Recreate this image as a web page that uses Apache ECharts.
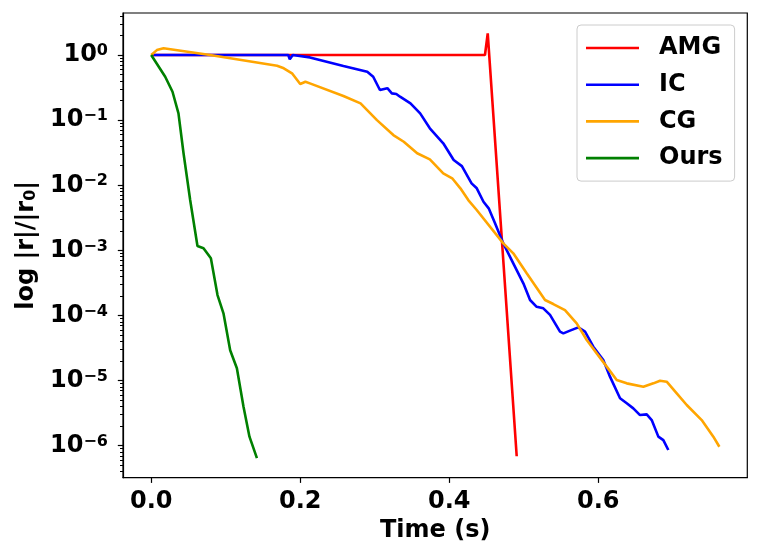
<!DOCTYPE html>
<html>
<head>
<meta charset="utf-8">
<script src="https://cdn.jsdelivr.net/npm/echarts@6/dist/echarts.min.js"></script>
<style>
  html, body { margin: 0; padding: 0; background: #fff; }
  #chart { width: 760px; height: 559px; }
</style>
</head>
<body>
<div id="chart"></div>
<script>
// residual history: time (s) and |r|/|r0|
const amgTime = [0, 0.448, 0.4517, 0.4906];
const amgRes = [1, 1, 2.15, 6.9e-7];

const icTime = [0.003, 0.184, 0.186, 0.19, 0.213, 0.258, 0.29, 0.298, 0.307, 0.317,
    0.323, 0.329, 0.334, 0.348, 0.361, 0.374, 0.392, 0.406, 0.417, 0.43,
    0.437, 0.446, 0.453, 0.4615, 0.4726, 0.486, 0.4995, 0.5085, 0.5174, 0.5263,
    0.5353, 0.5487, 0.5532, 0.5621, 0.5733, 0.5823, 0.5934, 0.6068, 0.6158, 0.6293,
    0.6383, 0.6471, 0.6561, 0.6651, 0.6718, 0.6807, 0.6874, 0.6941];
const icRes = [1, 1, 0.86, 1, 0.92, 0.678, 0.554, 0.464, 0.29, 0.31,
    0.258, 0.252, 0.229, 0.181, 0.127, 0.0749, 0.0441, 0.0244, 0.0197, 0.0107,
    8.98e-3, 5.59e-3, 4.42e-3, 2.6e-3, 1.28e-3, 6.33e-4, 3.12e-4, 1.73e-4, 1.36e-4, 1.29e-4,
    1.02e-4, 5.64e-5, 5.32e-5, 5.85e-5, 6.58e-5, 5.64e-5, 3.32e-5, 2.07e-5, 1.15e-5, 5.35e-6,
    4.48e-6, 3.75e-6, 2.96e-6, 3.03e-6, 2.48e-6, 1.38e-6, 1.22e-6, 8.59e-7];

const cgTime = [0, 0.0076, 0.0166, 0.079, 0.169, 0.178, 0.189, 0.2, 0.207, 0.213,
    0.258, 0.281, 0.303, 0.325, 0.339, 0.357, 0.374, 0.392, 0.404, 0.415,
    0.4256, 0.4369, 0.4726, 0.486, 0.504, 0.5286, 0.5397, 0.5554, 0.5711, 0.5846,
    0.598, 0.6114, 0.6248, 0.6383, 0.6606, 0.674, 0.683, 0.6919, 0.7054, 0.7188,
    0.7389, 0.7545, 0.7626];
const cgRes = [1, 1.19, 1.27, 1.0, 0.685, 0.625, 0.524, 0.359, 0.389, 0.367,
    0.235, 0.181, 0.1, 0.059, 0.0466, 0.031, 0.025, 0.0152, 0.0128, 8.98e-3,
    5.93e-3, 4.17e-3, 1.28e-3, 9.02e-4, 4.45e-4, 1.73e-4, 1.5e-4, 1.21e-4, 7.59e-5, 4.2e-5,
    2.62e-5, 1.64e-5, 1.02e-5, 9.08e-6, 8.07e-6, 9.08e-6, 9.98e-6, 9.62e-6, 6.37e-6, 4.22e-6,
    2.48e-6, 1.38e-6, 9.66e-7];

const oursTime = [0, 0.0188, 0.0286, 0.0366, 0.0434, 0.0523, 0.0621, 0.0702, 0.0801, 0.089,
    0.097, 0.106, 0.115, 0.1239, 0.1319, 0.1419];
const oursRes = [1, 0.464, 0.273, 0.127, 0.031, 5.93e-3, 1.17e-3, 1.08e-3, 7.55e-4, 2.06e-4,
    1.08e-4, 2.92e-5, 1.55e-5, 3.98e-6, 1.38e-6, 6.46e-7];

const seriesNames = ['AMG', 'IC', 'CG', 'Ours'];
const seriesColors = ['#ff0000', '#0000ff', '#ffa500', '#008000'];

const xTicks = [0, 0.2, 0.4, 0.6];
const yExponents = [-6, -5, -4, -3, -2, -1, 0];

const FONT = 'DejaVu Sans';

function zip(xs, ys) {
    return xs.map((x, i) => [x, ys[i]]);
}

const yMajor = yExponents.map(e => Math.pow(10, e));
const yMinor = [];
for (let e = -7; e <= 0; e++) {
    for (let k = 2; k <= 9; k++) {
        yMinor.push(k * Math.pow(10, e));
    }
}

const seriesData = [
    zip(amgTime, amgRes),
    zip(icTime, icRes),
    zip(cgTime, cgRes),
    zip(oursTime, oursRes)
];

const chart = echarts.init(document.getElementById('chart'), null, { renderer: 'canvas' });

const yMin = 3.23e-7;
const yMax = 4.42;

chart.setOption({
    animation: false,
    backgroundColor: '#fff',
    grid: {
        left: 123, right: 12.7, top: 13, bottom: 81.3,
        show: true, borderColor: '#000', borderWidth: 1.2, backgroundColor: 'transparent'
    },
    legend: {
        orient: 'vertical',
        left: 577, top: 25,
        padding: [11, 12, 11, 9],
        icon: 'rect',
        itemWidth: 53, itemHeight: 2.6, itemGap: 12.7,
        backgroundColor: '#fff',
        borderColor: '#cccccc', borderWidth: 1, borderRadius: 4,
        data: seriesNames,
        textStyle: {
            fontFamily: FONT, fontWeight: 'bold', fontSize: 24, color: '#000',
            lineHeight: 24, padding: [0, 0, 0, 15]
        }
    },
    xAxis: {
        type: 'value',
        min: -0.03785, max: 0.8001,
        name: 'Time (s)',
        nameLocation: 'middle',
        nameGap: 40,
        nameTextStyle: { fontFamily: FONT, fontWeight: 'bold', fontSize: 24, color: '#000' },
        axisLine: { show: true, onZero: false, lineStyle: { color: '#000', width: 1.2 } },
        axisTick: { show: true, length: 5.2, lineStyle: { color: '#000', width: 1.2 }, customValues: xTicks },
        axisLabel: {
            customValues: xTicks, margin: 12,
            fontFamily: FONT, fontWeight: 'bold', fontSize: 24, color: '#000',
            formatter: v => v.toFixed(1)
        },
        splitLine: { show: false }
    },
    yAxis: [{
        type: 'log',
        min: yMin, max: yMax,
        position: 'left',
        name: '{a|log |r|/|r}{sub|0}{a||}',
        nameLocation: 'middle',
        nameGap: 82,
        nameTextStyle: {
            rich: {
                a: { fontFamily: FONT, fontWeight: 'bold', fontSize: 24, color: '#000' },
                sub: { fontFamily: FONT, fontWeight: 'bold', fontSize: 16, color: '#000', lineHeight: 14, verticalAlign: 'bottom' }
            }
        },
        axisLine: { show: true, onZero: false, lineStyle: { color: '#000', width: 1.2 } },
        axisTick: { show: true, length: 5.2, lineStyle: { color: '#000', width: 1.2 }, customValues: yMajor },
        axisLabel: {
            customValues: yMajor, margin: 15,
            formatter: v => '{b|10}{s|' + (Math.round(Math.log10(v)) < 0 ? '\u2212' : '') + Math.abs(Math.round(Math.log10(v))) + '}',
            rich: {
                b: { fontFamily: FONT, fontWeight: 'bold', fontSize: 24, color: '#000', lineHeight: 24 },
                s: { fontFamily: FONT, fontWeight: 'bold', fontSize: 16, color: '#000', lineHeight: 12, verticalAlign: 'top' }
            }
        },
        splitLine: { show: false },
        minorTick: { show: false }
    }, {
        type: 'log',
        min: yMin, max: yMax,
        position: 'left',
        axisLine: { show: false, onZero: false },
        axisTick: { show: true, length: 3, lineStyle: { color: '#000', width: 1 }, customValues: yMinor },
        axisLabel: { show: false },
        splitLine: { show: false }
    }],
    series: seriesNames.map((name, i) => ({
        name: name,
        type: 'line',
        data: seriesData[i],
        symbol: 'none',
        color: seriesColors[i],
        lineStyle: { color: seriesColors[i], width: 2.6 },
        z: 2 + i
    }))
});
</script>
</body>
</html>
